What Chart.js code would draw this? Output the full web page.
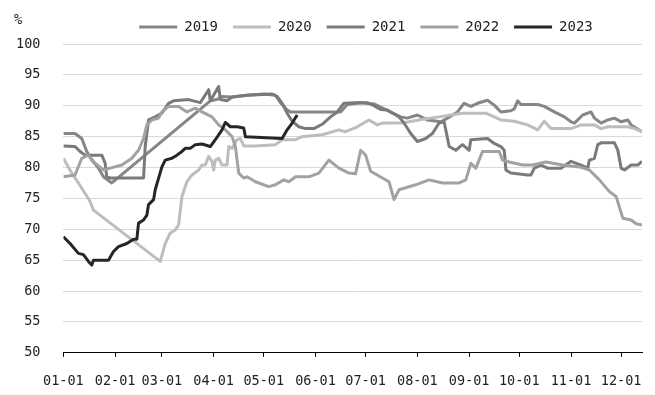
<!DOCTYPE html>
<html>
<head>
<meta charset="utf-8">
<script src="https://cdn.jsdelivr.net/npm/chart.js@4.4.1/dist/chart.umd.min.js"></script>
<style>
  html, body { margin: 0; padding: 0; background: #fff; }
  #wrap { width: 655px; height: 395px; }
</style>
</head>
<body>
<div id="wrap"><canvas id="grafico" width="655" height="395"></canvas></div>
<script>
// Ejes: día del año (0 = 01-01) y etiquetas de mes
const monthDays = [0, 31, 59, 90, 120, 151, 181, 212, 243, 273, 304, 334];
const monthLabels = ['01-01', '02-01', '03-01', '04-01', '05-01', '06-01', '07-01', '08-01', '09-01', '10-01', '11-01', '12-01'];
const yTicks = [50, 55, 60, 65, 70, 75, 80, 85, 90, 95, 100];

// Series por año (día del año, valor %)
const days2019 = [0,7,11,14,17,21,24,29,88,92,95,101,110,120,127,130,134,136,166,170,178,186,190,198,202,206,212,218,226,230,236,240,244,248,254,258,262,268,270,272,274,284,288,294,300,304,306,311,316,318,322,326,330,334,338,340,346.5];
const vals2019 = [85.5,85.5,84.7,82.6,81.2,79.9,78.5,77.5,90.8,91.0,91.5,91.4,91.7,91.9,91.7,90.5,89.3,89.0,89.0,90.2,90.5,90.3,89.8,88.7,88.2,88.0,88.5,87.7,87.4,88.0,89.0,90.4,89.9,90.4,90.9,90.1,89.0,89.2,89.5,90.8,90.2,90.2,89.9,89.0,88.2,87.4,87.2,88.5,89.0,88.0,87.2,87.7,88.0,87.4,87.7,86.9,85.8];

const days2020 = [0,5,9,13,16,18,58,61,64,67,69,71,74,77,81,83,85,87,89,90,91,93,95,98,99,101,104,106,108,115,127,131,139,143,155,165,169,176,183,188,191,203,215,225,239,253,262,270,278,284,288,292,304,310,318,322,326,338,342,346.5];
const vals2020 = [81.5,79.1,77.5,75.8,74.5,73.1,64.8,67.7,69.4,69.9,70.7,75.3,77.7,78.8,79.6,80.4,80.4,81.8,81.0,79.6,81.2,81.5,80.4,80.4,83.4,83.1,84.5,84.7,83.5,83.5,83.7,84.5,84.5,85.0,85.3,86.1,85.8,86.6,87.7,86.9,87.2,87.2,87.8,88.2,88.8,88.8,87.7,87.5,86.9,86.1,87.5,86.3,86.3,86.9,86.9,86.3,86.6,86.6,86.3,85.8];

const days2021 = [0,7,10,13,23,25,26,28,48,49,51,55,59,63,66,75,82,87,88,93,94,98,101,110,125,128,131,134,137,141,145,150,155,160,164,168,175,182,186,190,194,198,201,204,208,212,217,221,225,228,229,231,235,239,243,244,254,258,262,264,265,268,278,280,282,286,290,298,304,310,314,315,318,320,322,330,332,334,336,340,344,346.5];
const vals2021 = [83.5,83.4,82.6,82.0,82.0,80.7,78.5,78.3,78.3,83.4,87.7,88.2,88.8,90.4,90.8,91.0,90.5,92.6,90.8,93.1,91.0,90.8,91.4,91.7,91.9,91.5,90.4,88.8,87.5,86.6,86.3,86.3,87.0,88.2,89.0,90.4,90.5,90.5,90.0,89.4,89.3,88.7,88.2,87.2,85.5,84.2,84.7,85.5,87.2,87.4,86.1,83.4,82.8,83.7,82.8,84.5,84.7,83.9,83.4,82.8,79.6,79.1,78.8,78.8,79.9,80.4,79.9,79.9,81.0,80.4,79.9,81.2,81.5,83.7,84.0,84.0,82.8,79.9,79.6,80.4,80.4,81.0];

const days2022 = [0,7,11,15,19,24,28,35,41,45,48,50,53,57,59,63,69,74,79,83,89,93,97,101,103,105,108,110,115,123,127,132,135,139,147,153,159,165,171,175,178,181,184,195,198,201,211,219,227,237,241,244,247,251,261,263,267,275,281,289,299,309,315,321,327,331,335,340,343,346.5];
const vals2022 = [78.5,78.8,81.5,82.0,80.7,79.6,79.9,80.4,81.5,82.8,84.7,86.9,87.7,88.0,89.0,89.9,89.9,89.0,89.6,89.0,88.2,86.9,86.1,85.0,83.4,79.1,78.3,78.5,77.7,76.9,77.2,78.0,77.7,78.5,78.5,79.1,81.2,79.9,79.1,79.0,82.8,82.0,79.4,77.7,74.8,76.4,77.2,78.0,77.5,77.5,78.0,80.7,79.9,82.6,82.6,81.2,80.9,80.4,80.4,80.9,80.4,80.1,79.6,78.0,76.1,75.3,71.8,71.5,70.9,70.7];

const days2023 = [0,4,9,12,15,17,18,27,30,33,38,42,44,45,48,50,51,54,55,59,61,65,68,71,73,76,79,83,88,91,95,97,100,104,108,109,131,134,137,140];
const vals2023 = [68.8,67.7,66.1,65.9,64.8,64.2,65.0,65.0,66.4,67.2,67.7,68.4,68.4,71.0,71.5,72.3,74.0,74.8,76.4,80.1,81.2,81.5,82.0,82.6,83.1,83.1,83.7,83.8,83.4,84.5,86.1,87.3,86.6,86.6,86.4,85.0,84.7,86.1,87.2,88.5];

const seriesNames = ['2019', '2020', '2021', '2022', '2023'];

// ==========================================
// Armado de datasets
// ==========================================
const toPoints = (days, vals) => days.map((d, i) => ({ x: d, y: vals[i] }));

const colores = ['#868686', '#bdbdbd', '#7a7a7a', '#a2a2a2', '#262626'];
const seriesData = [
    toPoints(days2019, vals2019),
    toPoints(days2020, vals2020),
    toPoints(days2021, vals2021),
    toPoints(days2022, vals2022),
    toPoints(days2023, vals2023)
];

const datasets = seriesNames.map((name, i) => ({
    label: name,
    data: seriesData[i],
    borderColor: colores[i],
    backgroundColor: colores[i],
    borderWidth: 3,
    pointRadius: 0,
    tension: 0,
    fill: false,
    borderJoinStyle: 'round',
    order: seriesNames.length - i // 2023 queda encima
}));

Chart.defaults.font.family = "'DejaVu Sans Mono', monospace";
Chart.defaults.font.size = 13.5;
Chart.defaults.color = '#222';

// Corre la leyenda hacia la derecha como en el original
const moverLeyenda = {
    id: 'moverLeyenda',
    afterLayout(chart) {
        chart.legend.left += 37;
        chart.legend.right += 37;
    }
};

// Etiqueta "%" arriba del eje Y
const etiquetaPorcentaje = {
    id: 'etiquetaPorcentaje',
    afterDraw(chart) {
        const ctx = chart.ctx;
        ctx.save();
        ctx.font = "13.5px 'DejaVu Sans Mono', monospace";
        ctx.fillStyle = '#222';
        ctx.textAlign = 'center';
        ctx.textBaseline = 'middle';
        ctx.fillText('%', 18, 20);
        ctx.restore();
    }
};

new Chart(document.getElementById('grafico').getContext('2d'), {
    type: 'line',
    data: { datasets },
    options: {
        responsive: false,
        animation: false,
        devicePixelRatio: 1,
        layout: { padding: { top: 5, left: 16, right: 13, bottom: 5 } },
        plugins: {
            legend: {
                position: 'top',
                labels: {
                    font: { size: 14 },
                    usePointStyle: true,
                    pointStyle: 'line',
                    pointStyleWidth: 38,
                    padding: 15,
                    sort: (a, b) => a.datasetIndex - b.datasetIndex
                }
            },
            tooltip: { enabled: false }
        },
        scales: {
            x: {
                type: 'linear',
                min: 0,
                max: 346.5,
                afterBuildTicks: scale => { scale.ticks = monthDays.map(v => ({ value: v })); },
                // Chart.js reserva el padding dos veces y espacio para la última etiqueta; lo quitamos
                afterFit: scale => {
                    scale.height -= scale.options.ticks.padding;
                    scale.paddingRight = 0;
                },
                ticks: {
                    autoSkip: false,
                    maxRotation: 0,
                    padding: 17,
                    callback: v => monthLabels[monthDays.indexOf(v)]
                },
                grid: { drawOnChartArea: false, drawTicks: true, tickLength: 4, tickColor: '#000', color: '#000' },
                border: { display: true, color: '#000', width: 1 }
            },
            y: {
                min: 50,
                max: 100,
                afterBuildTicks: scale => { scale.ticks = yTicks.map(v => ({ value: v })); },
                afterFit: scale => { scale.width -= scale.options.ticks.padding; },
                ticks: { padding: 23 },
                grid: { color: '#d9d9d9', drawTicks: false },
                border: { display: false }
            }
        }
    },
    plugins: [moverLeyenda, etiquetaPorcentaje]
});
</script>
</body>
</html>
